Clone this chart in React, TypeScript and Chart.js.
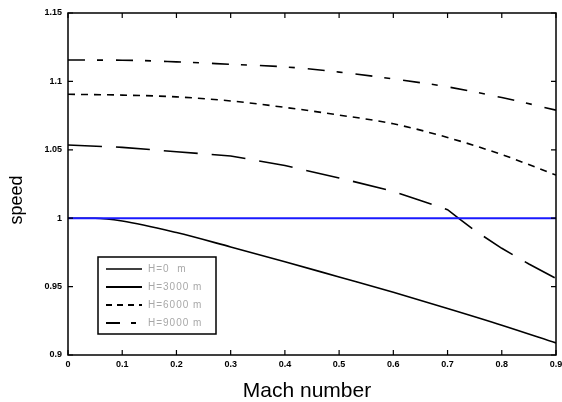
import React, { useEffect, useRef } from "react";
import { Chart, registerables } from "chart.js";

Chart.register(...registerables);

// Mach number sample positions per curve
const machA = [0, 0.05, 0.1, 0.2, 0.3, 0.4, 0.5, 0.6, 0.7, 0.8, 0.9];
const speedH0 = [1.0, 1.0, 0.998, 0.9895, 0.979, 0.9682, 0.957, 0.9458, 0.934, 0.9218, 0.9088];

const machB = [0, 0.1, 0.2, 0.3, 0.4, 0.5, 0.6, 0.65, 0.7, 0.72, 0.75, 0.8, 0.85, 0.9];
const speedH3000 = [1.0535, 1.0518, 1.0486, 1.0455, 1.0385, 1.0294, 1.0196, 1.013, 1.0062, 1.0, 0.991, 0.978, 0.9665, 0.956];

const machC = [0, 0.1, 0.2, 0.3, 0.4, 0.5, 0.6, 0.7, 0.8, 0.9];
const speedH6000 = [1.0906, 1.09, 1.0887, 1.0857, 1.081, 1.0754, 1.069, 1.059, 1.0465, 1.0315];
const speedH9000 = [1.1156, 1.1155, 1.1143, 1.1125, 1.1106, 1.1068, 1.1018, 1.096, 1.0882, 1.079];

const refMach = [0, 0.9];
const refSpeed = [1, 1];

const legendLabels = ["H=0  m", "H=3000 m", "H=6000 m", "H=9000 m"];
const xTicks = [0, 0.1, 0.2, 0.3, 0.4, 0.5, 0.6, 0.7, 0.8, 0.9];
const yTicks = [0.9, 0.95, 1, 1.05, 1.1, 1.15];
const xTitle = "Mach number";
const yTitle = "speed";

const pts = (xs: number[], ys: number[]) => xs.map((x, i) => ({ x, y: ys[i] }));
const fmt = (v: number) => String(Number(Number(v).toFixed(2)));
const FAM = "'Liberation Sans', Arial, sans-serif";

const frameAndLegend = {
  id: "frameAndLegend",
  afterDatasetsDraw(chart: any) {
    const { ctx, chartArea: a, scales } = chart;
    ctx.save();
    ctx.strokeStyle = "#000";
    ctx.lineWidth = 1.5;
    ctx.setLineDash([]);
    ctx.strokeRect(a.left, a.top, a.right - a.left, a.bottom - a.top);
    ctx.lineWidth = 1.2;
    const tl = 5;
    xTicks.forEach((t) => {
      const px = scales.x.getPixelForValue(t);
      ctx.beginPath();
      ctx.moveTo(px, a.bottom);
      ctx.lineTo(px, a.bottom - tl);
      ctx.moveTo(px, a.top);
      ctx.lineTo(px, a.top + tl);
      ctx.stroke();
    });
    yTicks.forEach((t) => {
      const py = scales.y.getPixelForValue(t);
      ctx.beginPath();
      ctx.moveTo(a.left, py);
      ctx.lineTo(a.left + tl, py);
      ctx.moveTo(a.right, py);
      ctx.lineTo(a.right - tl, py);
      ctx.stroke();
    });

    // axis titles
    ctx.fillStyle = "#000";
    ctx.textAlign = "center";
    ctx.textBaseline = "middle";
    ctx.font = `21px ${FAM}`;
    ctx.fillText(xTitle, (a.left + a.right) / 2 - 5, 391);
    ctx.save();
    ctx.translate(17, 200);
    ctx.rotate(-Math.PI / 2);
    ctx.font = `18px ${FAM}`;
    ctx.fillText(yTitle, 0, 0);
    ctx.restore();

    // legend box
    const bx = a.left + 30;
    const by = a.top + 244;
    const bw = 118;
    const bh = 77;
    ctx.fillStyle = "#fff";
    ctx.fillRect(bx, by, bw, bh);
    ctx.lineWidth = 1.5;
    ctx.strokeStyle = "#000";
    ctx.strokeRect(bx, by, bw, bh);
    const styles = [
      { w: 1.5, dash: [] as number[] },
      { w: 2.2, dash: [] as number[] },
      { w: 1.8, dash: [6, 5] },
      { w: 1.8, dash: [14, 11, 5, 20] },
    ];
    ctx.font = `10px ${FAM}`;
    (ctx as any).letterSpacing = "1px";
    ctx.textBaseline = "middle";
    ctx.textAlign = "left";
    legendLabels.forEach((lab, i) => {
      const y = by + 12 + i * 18;
      ctx.strokeStyle = "#000";
      ctx.lineWidth = styles[i].w;
      ctx.setLineDash(styles[i].dash);
      ctx.beginPath();
      ctx.moveTo(bx + 8, y);
      ctx.lineTo(bx + 44, y);
      ctx.stroke();
      ctx.setLineDash([]);
      ctx.fillStyle = "#a8a8a8";
      ctx.fillText(lab, bx + 50, y);
    });
    ctx.restore();
  },
};

export default function App() {
  const ref = useRef<HTMLCanvasElement | null>(null);
  useEffect(() => {
    if (!ref.current) return;
    const tickFont = { family: FAM, size: 9, weight: "bold" as const };
    const chart = new Chart(ref.current, {
      type: "line",
      data: {
        datasets: [
          {
            label: "ref",
            data: pts(refMach, refSpeed),
            borderColor: "#1a1aff",
            borderWidth: 2,
            pointRadius: 0,
            order: 0,
          },
          {
            label: legendLabels[0],
            data: pts(machA, speedH0),
            borderColor: "#000",
            borderWidth: 1.6,
            pointRadius: 0,
            cubicInterpolationMode: "monotone",
            order: 1,
          },
          {
            label: legendLabels[1],
            data: pts(machB, speedH3000),
            borderColor: "#000",
            borderWidth: 1.6,
            borderDash: [34, 14],
            pointRadius: 0,
            order: 1,
          },
          {
            label: legendLabels[2],
            data: pts(machC, speedH6000),
            borderColor: "#000",
            borderWidth: 1.6,
            borderDash: [7, 6],
            pointRadius: 0,
            cubicInterpolationMode: "monotone",
            order: 1,
          },
          {
            label: legendLabels[3],
            data: pts(machC, speedH9000),
            borderColor: "#000",
            borderWidth: 1.6,
            borderDash: [17, 12, 6, 13],
            pointRadius: 0,
            cubicInterpolationMode: "monotone",
            order: 1,
          },
        ],
      },
      options: {
        animation: false,
        responsive: false,
        devicePixelRatio: 1,
        layout: { padding: { left: 0, top: 13, right: 0, bottom: 0 } },
        plugins: { legend: { display: false }, tooltip: { enabled: false } },
        scales: {
          x: {
            type: "linear",
            min: 0,
            max: 0.9,
            afterBuildTicks: (s: any) => {
              s.ticks = xTicks.map((v) => ({ value: v }));
            },
            afterFit: (s: any) => {
              s.height = 47;
              s.paddingRight = 6;
              s.paddingLeft = 0;
            },
            ticks: { color: "#000", font: tickFont, padding: 4, maxRotation: 0, callback: (v: any) => fmt(v) },
            grid: { display: false, drawTicks: false },
            border: { display: false },
            title: { display: false },
          },
          y: {
            type: "linear",
            min: 0.9,
            max: 1.15,
            afterBuildTicks: (s: any) => {
              s.ticks = yTicks.map((v) => ({ value: v }));
            },
            afterFit: (s: any) => {
              s.width = 68;
              s.paddingTop = 0;
              s.paddingBottom = 0;
            },
            ticks: { color: "#000", font: tickFont, padding: 6, callback: (v: any) => fmt(v) },
            grid: { display: false, drawTicks: false },
            border: { display: false },
            title: { display: false },
          },
        },
      },
      plugins: [frameAndLegend],
    });
    return () => chart.destroy();
  }, []);
  return (
    <div style={{ position: "fixed", left: 0, top: 0, width: 562, height: 402, background: "#fff" }}>
      <canvas ref={ref} width={562} height={402} style={{ display: "block", width: 562, height: 402 }} />
    </div>
  );
}
